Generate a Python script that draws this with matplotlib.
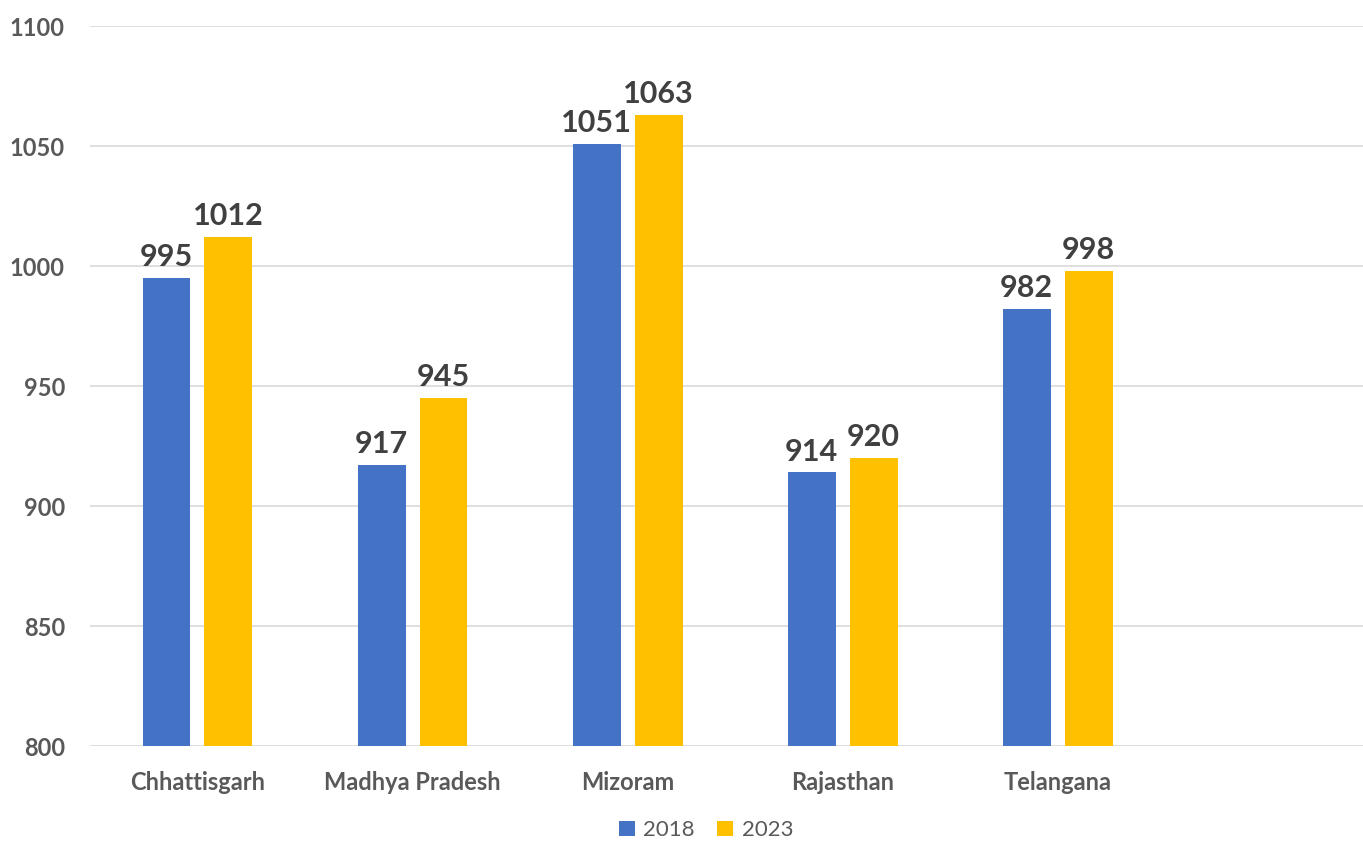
import numpy as np
import matplotlib.pyplot as plt

states = ["Chhattisgarh", "Madhya Pradesh", "Mizoram", "Rajasthan", "Telangana"]
vals_2018 = [995, 917, 1051, 914, 982]
vals_2023 = [1012, 945, 1063, 920, 998]
years = ["2018", "2023"]

plt.rcParams['font.family'] = ['Lato', 'DejaVu Sans']

fig = plt.figure(figsize=(13.63, 8.42), dpi=100)
ax = fig.add_axes([0.066, 0.114, 0.934, 0.855])

x = np.arange(len(states))
w = 0.223
off = 0.144
b1 = ax.bar(x - off, vals_2018, w, color='#4472C4', label=years[0], zorder=3)
b2 = ax.bar(x + off, vals_2023, w, color='#FFC000', label=years[1], zorder=3)

for bars in (b1, b2):
    for r in bars:
        ax.annotate(f"{int(r.get_height())}", (r.get_x() + r.get_width() / 2, r.get_height()),
                    xytext=(0, 5), textcoords='offset points', ha='center', va='bottom',
                    fontsize=22, fontweight='bold', color='#404040')

ax.set_ylim(800, 1100)
ax.set_yticks(range(800, 1101, 50))
ax.set_xlim(-0.5, 5.42)
ax.set_xticks(x)
ax.set_xticklabels(states)
ax.grid(axis='y', color='#D9D9D9', linewidth=1.2, zorder=0)
for s in ax.spines.values():
    s.set_visible(False)
ax.tick_params(length=0)
ax.tick_params(axis='y', pad=18)
ax.tick_params(axis='x', pad=18)
for lab in ax.get_yticklabels() + ax.get_xticklabels():
    lab.set_fontsize(17)
    lab.set_fontweight('bold')
    lab.set_color('#595959')

ax.legend(loc='center', bbox_to_anchor=(0.484, -0.117), ncol=2, frameon=False,
          fontsize=16, handlelength=0.7, handleheight=0.7, columnspacing=1.0, handletextpad=0.4,
          labelcolor='#595959', borderpad=0)

fig.savefig("out.png", dpi=100)
